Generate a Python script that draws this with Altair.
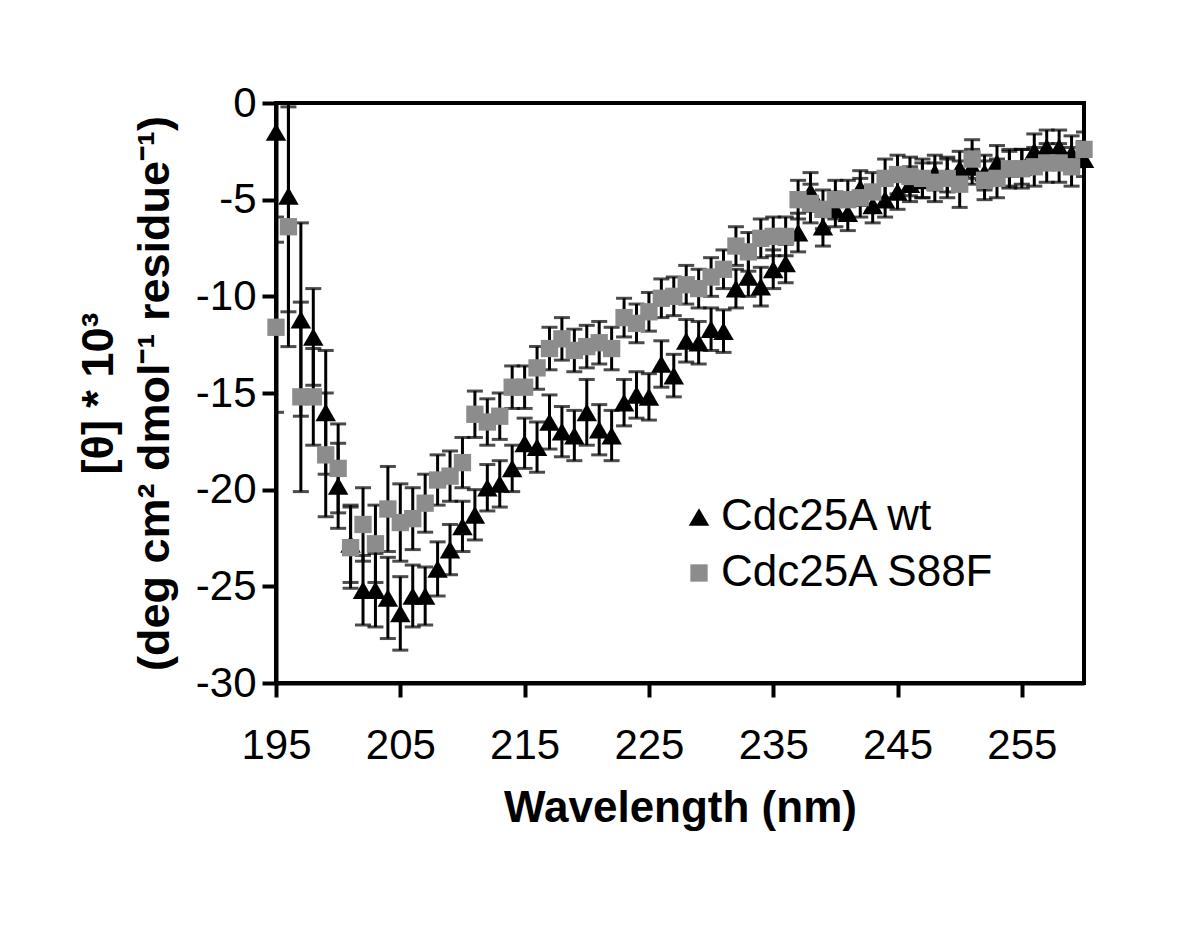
import altair as alt
import pandas as pd

wavelength = list(range(195, 261))

wt_values = [-1.5, -4.8, -11.2, -12.1, -16.0, -19.8, -22.8, -25.2, -25.2, -25.6,
             -26.4, -25.5, -25.5, -24.1, -23.1, -21.9, -21.3, -19.9, -19.7, -18.9,
             -17.6, -17.8, -16.5, -17.0, -17.2, -16.0, -16.9, -17.2, -15.5, -15.1,
             -15.2, -13.5, -14.1, -12.3, -12.4, -11.7, -11.8, -9.6, -9.0, -9.5,
             -8.6, -8.3, -6.7, -4.6, -6.4, -5.5, -5.7, -4.4, -5.3, -5.0,
             -4.6, -4.2, -4.0, -3.6, -3.7, -3.4, -3.3, -3.6, -3.1, -3.4,
             -3.3, -2.5, -2.3, -2.3, -2.6, -2.9]
wt_errors = [4.4, 6.0, 5.0, 2.5, 3.2, 2.2, 2.0, 1.8, 1.9, 2.1,
             1.9, 1.6, 1.5, 1.4, 1.3, 1.3, 1.3, 1.2, 1.2, 1.2,
             1.3, 1.3, 1.4, 1.3, 1.3, 1.7, 1.3, 1.3, 1.2, 1.2,
             1.2, 1.2, 1.1, 1.1, 1.1, 1.1, 1.1, 1.0, 1.0, 1.0,
             1.0, 1.0, 1.0, 1.0, 1.0, 0.9, 0.9, 0.9, 0.9, 0.9,
             0.9, 0.9, 0.9, 0.9, 0.9, 0.9, 0.9, 0.9, 0.9, 0.9,
             0.9, 0.9, 0.9, 0.9, 0.9, 0.9]

mut_values = [-11.6, -6.4, -15.2, -15.2, -18.2, -18.9, -23.0, -21.8, -22.8, -21.0,
              -21.7, -21.5, -20.7, -19.5, -19.3, -18.6, -16.1, -16.5, -16.2, -14.7,
              -14.7, -13.7, -12.7, -12.2, -12.8, -12.6, -12.4, -12.7, -11.1, -11.4,
              -10.8, -10.1, -10.0, -9.4, -9.6, -9.0, -8.6, -7.4, -7.7, -7.0,
              -6.9, -6.9, -5.0, -5.2, -5.5, -5.0, -5.0, -4.9, -4.6, -3.9,
              -3.7, -3.8, -3.9, -4.1, -3.9, -4.2, -2.9, -4.0, -3.9, -3.4,
              -3.4, -3.3, -3.1, -3.1, -3.3, -2.4]
mut_errors = [4.4, 6.2, 4.9, 2.5, 3.2, 2.3, 2.1, 1.9, 2.0, 2.2,
              2.0, 1.6, 1.5, 1.3, 1.3, 1.3, 1.2, 1.2, 1.2, 1.1,
              1.1, 1.1, 1.1, 1.1, 1.1, 1.1, 1.1, 1.1, 1.0, 1.0,
              1.0, 1.0, 1.0, 1.0, 1.0, 1.0, 1.0, 1.0, 1.0, 1.0,
              1.0, 1.0, 1.0, 1.0, 1.0, 1.0, 1.0, 1.0, 1.0, 1.0,
              1.0, 1.0, 1.0, 1.0, 1.0, 1.2, 1.0, 1.0, 1.0, 1.0,
              1.0, 1.0, 1.0, 1.0, 1.0, 0.9]

series_names = ["Cdc25A wt", "Cdc25A S88F"]
x_ticks = [195, 205, 215, 225, 235, 245, 255]
y_ticks = [0, -5, -10, -15, -20, -25, -30]


def frame(values, errors, name):
    return pd.DataFrame({
        "wl": wavelength,
        "val": values,
        "lo": [v - e for v, e in zip(values, errors)],
        "hi": [v + e for v, e in zip(values, errors)],
        "series": name,
    })


df_wt = frame(wt_values, wt_errors, series_names[0])
df_mut = frame(mut_values, mut_errors, series_names[1])

FONT = "Liberation Sans"

x_enc = alt.X("wl:Q", scale=alt.Scale(domain=[195, 260], nice=False, zero=False),
              axis=alt.Axis(values=x_ticks, title="Wavelength (nm)", format="d",
                            labelFontSize=42, titleFontSize=44, labelPadding=28,
                            titlePadding=20, tickSize=14, tickWidth=4, domainWidth=4,
                            labelFlush=False, labelOverlap=False,
                            labelFont=FONT, titleFont=FONT, titleFontWeight="bold",
                            grid=False, labelColor="black", titleColor="black",
                            domainColor="black", tickColor="black"))
y_enc = alt.Y("val:Q", scale=alt.Scale(domain=[-30, 0], nice=False, zero=False),
              axis=alt.Axis(values=y_ticks,
                            title=["[θ] * 10³", "(deg cm² dmol⁻¹ residue⁻¹)"],
                            labelExpr="datum.value == 0 ? '0' : '-' + abs(datum.value)",
                            labelFontSize=42, titleFontSize=45, labelPadding=6,
                            titlePadding=18, titleLineHeight=56,
                            tickSize=14, tickWidth=4, domainWidth=4,
                            labelFlush=False, labelOverlap=False,
                            labelFont=FONT, titleFont=FONT, titleFontWeight="bold",
                            grid=False, labelColor="black", titleColor="black",
                            domainColor="black", tickColor="black"))

color_scale = alt.Scale(domain=series_names, range=["black", "#8c8c8c"])
shape_scale = alt.Scale(domain=series_names, range=["triangle-up", "square"])
size_scale = alt.Scale(domain=series_names, range=[420, 300])
legend = alt.Legend(title=None, orient="none", legendX=401, legendY=392,
                    labelFontSize=44, labelFont=FONT, labelColor="black",
                    labelLimit=0, symbolStrokeWidth=0, rowPadding=12,
                    labelOffset=0)


def layers(df):
    base = alt.Chart(df)
    rule = base.mark_rule(color="black", strokeWidth=3, clip=True).encode(
        x=x_enc, y=alt.Y("lo:Q"), y2="hi:Q")
    cap_lo = base.mark_tick(color="black", thickness=3, size=16,
                            orient="horizontal", clip=True).encode(x=x_enc, y=alt.Y("lo:Q"))
    cap_hi = base.mark_tick(color="black", thickness=3, size=16,
                            orient="horizontal", clip=True).encode(x=x_enc, y=alt.Y("hi:Q"))
    pts = base.mark_point(filled=True, opacity=1, strokeWidth=0).encode(
        x=x_enc, y=y_enc,
        color=alt.Color("series:N", scale=color_scale, legend=legend),
        shape=alt.Shape("series:N", scale=shape_scale, legend=legend),
        size=alt.Size("series:N", scale=size_scale, legend=legend))
    return [rule, cap_lo, cap_hi, pts]


chart = alt.layer(*layers(df_wt), *layers(df_mut)).properties(
    width=808, height=580,
    background="white",
    autosize=alt.AutoSizeParams(type="none"),
    padding={"left": 268, "top": 95, "right": 108, "bottom": 252},
).configure_view(stroke="black", strokeWidth=4)

chart.save("out.html", embed_options={"renderer": "svg", "actions": False})
